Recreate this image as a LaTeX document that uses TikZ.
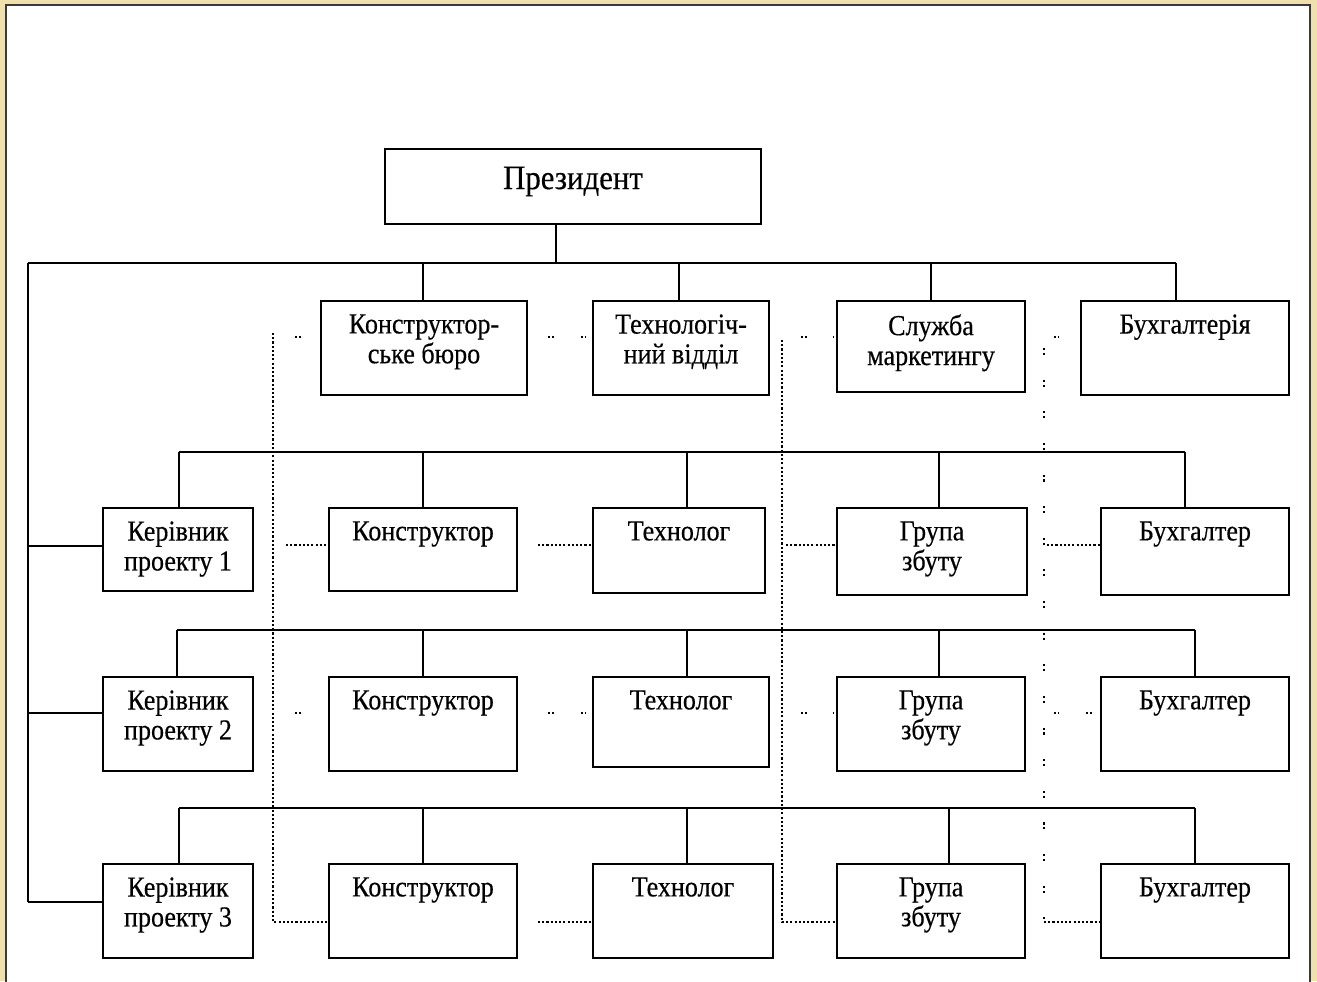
\documentclass[tikz,border=0pt]{standalone}
\usepackage{fontspec}
\setmainfont{Liberation Serif}[FakeStretch=0.9, FakeBold=0.4]
\usepackage{tikz}
\usetikzlibrary{fit, calc}

\definecolor{parchment}{RGB}{239,224,172}
\definecolor{framegray}{RGB}{58,58,58}

\tikzset{
  unit/.style={draw, line width=1.1pt, inner sep=0pt},
  unittext/.style={anchor=north, align=center, inner sep=0pt, font=\fontsize{16.5}{17}\selectfont},
  link/.style={line width=1.1pt},
  dots/.style={line width=1.2pt, dash pattern=on 1.2pt off 1.2pt},
  sparse/.style={line width=1.2pt, dash pattern=on 1.2pt off 1.6pt on 1.2pt off 14pt},
}

\begin{document}
\begin{tikzpicture}[x=0.02cm, y=-0.02cm]
        \useasboundingbox (0,0) rectangle (1317,981);
        \fill[parchment] (0,0) rectangle (1317,981);
        \clip (0,0) rectangle (1317,981);
        \draw[framegray, line width=1.6pt, fill=white] (6,5) rectangle (1310,1010);

        \node (P) [unit, fit={(385,149) (761,224)}] {};
        \node (KB) [unit, fit={(321,301) (527,395)}] {};
        \node (TV) [unit, fit={(593,301) (769,395)}] {};
        \node (SM) [unit, fit={(837,301) (1025,392)}] {};
        \node (BH) [unit, fit={(1081,301) (1289,395)}] {};

        \node (K1) [unit, fit={(103,508) (253,591)}] {};
        \node (C1) [unit, fit={(329,508) (517,591)}] {};
        \node (T1) [unit, fit={(593,508) (765,593)}] {};
        \node (G1) [unit, fit={(837,508) (1027,595)}] {};
        \node (A1) [unit, fit={(1101,508) (1289,595)}] {};

        \node (K2) [unit, fit={(103,677) (253,771)}] {};
        \node (C2) [unit, fit={(329,677) (517,771)}] {};
        \node (T2) [unit, fit={(593,677) (769,767)}] {};
        \node (G2) [unit, fit={(837,677) (1025,771)}] {};
        \node (A2) [unit, fit={(1101,677) (1289,771)}] {};

        \node (K3) [unit, fit={(103,864) (253,958)}] {};
        \node (C3) [unit, fit={(329,864) (517,958)}] {};
        \node (T3) [unit, fit={(593,864) (773,958)}] {};
        \node (G3) [unit, fit={(837,864) (1025,958)}] {};
        \node (A3) [unit, fit={(1101,864) (1289,958)}] {};

        \node (Pt) [unittext, anchor=center, font=\fontsize{19.5}{20}\selectfont] at ([yshift=0.1cm]P.center) {Президент};
        \node (KBt) [unittext] at ([yshift=-0.28cm]KB.north) {Конструктор-\\ське бюро};
        \node (TVt) [unittext] at ([yshift=-0.28cm]TV.north) {Технологіч-\\ний відділ};
        \node (SMt) [unittext] at ([yshift=-0.28cm]SM.north) {Служба\\маркетингу};
        \node (BHt) [unittext] at ([yshift=-0.28cm]BH.north) {Бухгалтерія};

        \node (K1t) [unittext] at ([yshift=-0.28cm]K1.north) {Керівник\\проекту 1};
        \node (C1t) [unittext] at ([yshift=-0.28cm]C1.north) {Конструктор};
        \node (T1t) [unittext] at ([yshift=-0.28cm]T1.north) {Технолог};
        \node (G1t) [unittext] at ([yshift=-0.28cm]G1.north) {Група\\збуту};
        \node (A1t) [unittext] at ([yshift=-0.28cm]A1.north) {Бухгалтер};

        \node (K2t) [unittext] at ([yshift=-0.28cm]K2.north) {Керівник\\проекту 2};
        \node (C2t) [unittext] at ([yshift=-0.28cm]C2.north) {Конструктор};
        \node (T2t) [unittext] at ([yshift=-0.28cm]T2.north) {Технолог};
        \node (G2t) [unittext] at ([yshift=-0.28cm]G2.north) {Група\\збуту};
        \node (A2t) [unittext] at ([yshift=-0.28cm]A2.north) {Бухгалтер};

        \node (K3t) [unittext] at ([yshift=-0.28cm]K3.north) {Керівник\\проекту 3};
        \node (C3t) [unittext] at ([yshift=-0.28cm]C3.north) {Конструктор};
        \node (T3t) [unittext] at ([yshift=-0.28cm]T3.north) {Технолог};
        \node (G3t) [unittext] at ([yshift=-0.28cm]G3.north) {Група\\збуту};
        \node (A3t) [unittext] at ([yshift=-0.28cm]A3.north) {Бухгалтер};

        \coordinate (L0) at (28,263);
        \coordinate (R0) at (1176,263);
        \draw[link] (P.south -| 556,0) -- (556,263);
        \draw[link] (L0) -- (R0);
        \draw[link] (L0) -- (28,902);
        \draw[link] (423,263) -- (423,0 |- KB.north);
        \draw[link] (679,263) -- (679,0 |- TV.north);
        \draw[link] (931,263) -- (931,0 |- SM.north);
        \draw[link] (R0) -- (1176,0 |- BH.north);

        \draw[link] (28,546) -- (K1.west |- 0,546);
        \draw[link] (28,713) -- (K2.west |- 0,713);
        \draw[link] (28,902) -- (K3.west |- 0,902);

        \draw[link] (179,452) -- (1185,452);
        \draw[link] (179,452) -- (179,0 |- K1.north);
        \draw[link] (423,452) -- (423,0 |- C1.north);
        \draw[link] (687,452) -- (687,0 |- T1.north);
        \draw[link] (939,452) -- (939,0 |- G1.north);
        \draw[link] (1185,452) -- (1185,0 |- A1.north);

        \draw[link] (177,630) -- (1195,630);
        \draw[link] (177,630) -- (177,0 |- K2.north);
        \draw[link] (423,630) -- (423,0 |- C2.north);
        \draw[link] (687,630) -- (687,0 |- T2.north);
        \draw[link] (939,630) -- (939,0 |- G2.north);
        \draw[link] (1195,630) -- (1195,0 |- A2.north);

        \draw[link] (179,808) -- (1195,808);
        \draw[link] (179,808) -- (179,0 |- K3.north);
        \draw[link] (423,808) -- (423,0 |- C3.north);
        \draw[link] (687,808) -- (687,0 |- T3.north);
        \draw[link] (949,808) -- (949,0 |- G3.north);
        \draw[link] (1195,808) -- (1195,0 |- A3.north);

        \draw[dots] (273,333) -- (273,922) -- (C3.west |- 0,922);
        \draw[dots] (782,340) -- (782,922) -- (G3.west |- 0,922);
        \draw[sparse] (1044,348) -- (1044,922);
        \draw[dots] (1044,922) -- (A3.west |- 0,922);
        \draw[dots] (538,922) -- (T3.west |- 0,922);

        \draw[dots] (286,545) -- (C1.west |- 0,545);
        \draw[dots] (538,545) -- (T1.west |- 0,545);
        \draw[dots] (786,545) -- (G1.west |- 0,545);
        \draw[dots] (1047,545) -- (A1.west |- 0,545);

        \draw[dots] (295,337) -- (303,337);
        \draw[dots] (548,337) -- (556,337);
        \draw[dots] (581,337) -- (586,337);
        \draw[dots] (801,337) -- (809,337);
        \draw[dots] (833,337) -- (834,337);
        \draw[dots] (1054,337) -- (1059,337);

        \draw[dots] (295,713) -- (303,713);
        \draw[dots] (548,713) -- (556,713);
        \draw[dots] (581,713) -- (586,713);
        \draw[dots] (801,713) -- (809,713);
        \draw[dots] (833,713) -- (834,713);
        \draw[dots] (1054,713) -- (1059,713);
        \draw[dots] (1086,713) -- (1094,713);
    \end{tikzpicture}
\end{document}
